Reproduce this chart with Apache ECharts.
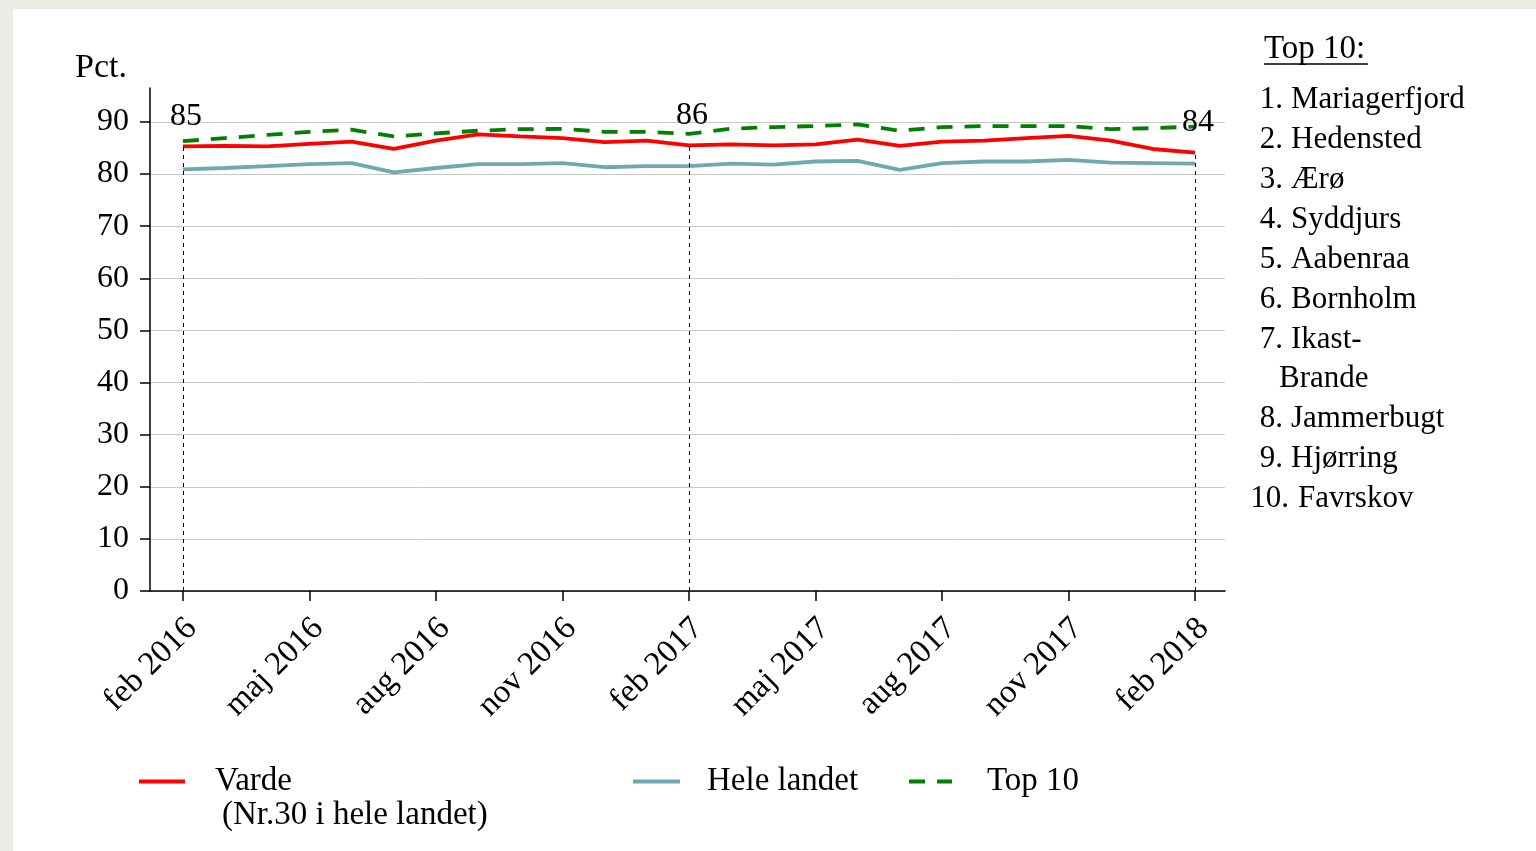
<!DOCTYPE html>
<html>
<head>
<meta charset="utf-8">
<script src="https://cdn.jsdelivr.net/npm/echarts@6/dist/echarts.min.js"></script>
<style>
html,body{margin:0;padding:0;width:1536px;height:851px;background:#ebebe6;overflow:hidden;}
#paper{position:absolute;left:13px;top:9px;right:0;bottom:0;background:#ffffff;}
#chart{position:absolute;left:0;top:0;width:1536px;height:851px;}
</style>
</head>
<body>
<div id="paper"></div>
<div id="chart"></div>
<script>
// ---- data ----
const categories = ['feb 2016','mar 2016','apr 2016','maj 2016','jun 2016','jul 2016','aug 2016','sep 2016','okt 2016','nov 2016','dec 2016','jan 2017',
  'feb 2017','mar 2017','apr 2017','maj 2017','jun 2017','jul 2017','aug 2017','sep 2017','okt 2017','nov 2017','dec 2017','jan 2018','feb 2018'];
const varde   = [85.3,85.4,85.3,85.8,86.2,84.8,86.4,87.6,87.2,86.9,86.1,86.4,85.5,85.7,85.5,85.7,86.6,85.4,86.2,86.4,86.9,87.3,86.4,84.8,84.1];
const heleLandet = [80.9,81.15,81.5,81.9,82.1,80.3,81.15,81.9,81.9,82.1,81.3,81.5,81.5,82.0,81.8,82.4,82.5,80.8,82.1,82.4,82.4,82.7,82.2,82.1,82.0];
const top10   = [86.3,86.9,87.5,88.1,88.5,87.2,87.8,88.3,88.6,88.65,88.1,88.1,87.7,88.7,89.0,89.2,89.5,88.3,89.0,89.2,89.2,89.2,88.6,88.8,89.1];
const xTickIdx = [0,3,6,9,12,15,18,21,24];
const yTicks = [0,10,20,30,40,50,60,70,80,90];
const markedIdx = [0,12,24];
const top10Names = [['1.','Mariagerfjord'],['2.','Hedensted'],['3.','Ærø'],['4.','Syddjurs'],['5.','Aabenraa'],['6.','Bornholm'],['7.','Ikast-'],['','Brande'],['8.','Jammerbugt'],['9.','Hjørring'],['10.','Favrskov']];
const seriesNames = ['Varde','Hele landet','Top 10'];
const vardeNote = '(Nr.30 i hele landet)';
const yUnit = 'Pct.';
const listTitle = 'Top 10:';

const FONT = "'Liberation Serif','Times New Roman',serif";
const FS = 32;
const pairs = arr => arr.map((v,i)=>[i,v]);

const graphics = [
  {type:'text', left:75, top:51, style:{text:yUnit, font:`34px ${FONT}`, fill:'#000'}},
  {type:'text', left:1264, top:33, style:{text:listTitle, font:`33px ${FONT}`, fill:'#000'}},
  {type:'line', shape:{x1:1264,y1:64,x2:1368,y2:64}, style:{stroke:'#000', lineWidth:1.5}},
  {type:'text', left:222, top:799, style:{text:vardeNote, font:`33px ${FONT}`, fill:'#000'}}
];
top10Names.forEach((r,k)=>{
  const y = 100 + 39.9*k;
  const wide = r[0].length > 2;
  if (r[0]) graphics.push({type:'text', x: wide ? 1289 : 1283, y:y, style:{text:r[0], font:`31px ${FONT}`, fill:'#000', align:'right', verticalAlign:'middle'}});
  graphics.push({type:'text', x: r[0] ? (wide ? 1298 : 1291) : 1279, y:y, style:{text:r[1], font:`31px ${FONT}`, fill:'#000', align:'left', verticalAlign:'middle'}});
});

const chart = echarts.init(document.getElementById('chart'));
const lineCommon = {type:'line', symbol:'none', smooth:false, animation:false};
const legendText = pad => ({fontFamily:FONT, fontSize:33, color:'#000', padding:[0,0,0,pad]});
const legendCommon = {padding:0, itemHeight:14, selectedMode:false, itemStyle:{opacity:0}, lineStyle:{width:4}};

chart.setOption({
  backgroundColor:'transparent',
  animation:false,
  grid:{left:150, right:311, top:88, bottom:260, containLabel:false},
  xAxis:{
    type:'value', min:-0.78, max:24.71,
    axisLine:{show:true, onZero:false, lineStyle:{color:'#000', width:1.5}},
    axisTick:{show:true, length:10, lineStyle:{color:'#000', width:1.5}, customValues:xTickIdx},
    axisLabel:{customValues:xTickIdx, rotate:45, margin:18, verticalAlign:'top', fontFamily:FONT, fontSize:33, color:'#000',
      padding:[0,4,0,0], formatter:v=>categories[Math.round(v)]},
    splitLine:{show:false}
  },
  yAxis:{
    type:'value', min:0, max:96.5, interval:10,
    axisLine:{show:true, onZero:false, lineStyle:{color:'#000', width:1.5}},
    axisTick:{show:true, length:10, lineStyle:{color:'#000', width:1.5}, customValues:yTicks},
    axisLabel:{customValues:yTicks, margin:21, fontFamily:FONT, fontSize:FS, color:'#000'},
    splitLine:{show:true, lineStyle:{color:['#c8c8c8','#c8c8c8','#c8c8c8','#c8c8c8','#c8c8c8','#c8c8c8','#c8c8c8','#c8c8c8','#c8c8c8','#c8c8c8','rgba(0,0,0,0)'], width:1}}
  },
  legend:[
    Object.assign({left:137, top:765, itemWidth:46, data:[seriesNames[0]], textStyle:legendText(25)}, legendCommon),
    Object.assign({left:631, top:765, itemWidth:47, data:[seriesNames[1]], textStyle:legendText(22)}, legendCommon),
    Object.assign({left:907, top:765, itemWidth:43, data:[seriesNames[2]], textStyle:legendText(30)}, legendCommon)
  ],
  graphic:graphics,
  series:[
    Object.assign({}, lineCommon, {name:seriesNames[1], data:pairs(heleLandet), lineStyle:{color:'#6fa8b0', width:3.8}, itemStyle:{color:'#6fa8b0'}, z:2}),
    Object.assign({}, lineCommon, {name:seriesNames[2], data:pairs(top10), lineStyle:{color:'#008000', width:3.8, type:[16,12]}, itemStyle:{color:'#008000'}, z:2}),
    Object.assign({}, lineCommon, {name:seriesNames[0], data:pairs(varde), lineStyle:{color:'#ff0000', width:3.8}, itemStyle:{color:'#ff0000'}, z:3,
      markLine:{
        silent:true, symbol:['none','none'], animation:false,
        lineStyle:{color:'#000', width:1, type:[4,4]},
        label:{show:true, position:'end', distance:14, fontFamily:FONT, fontSize:FS, color:'#000', offset:[3,0]},
        data: markedIdx.map(i=>[
          {coord:[i,0]},
          {coord:[i,varde[i]], label:{formatter:String(Math.round(varde[i]))}}
        ])
      }})
  ]
});
</script>
</body>
</html>
